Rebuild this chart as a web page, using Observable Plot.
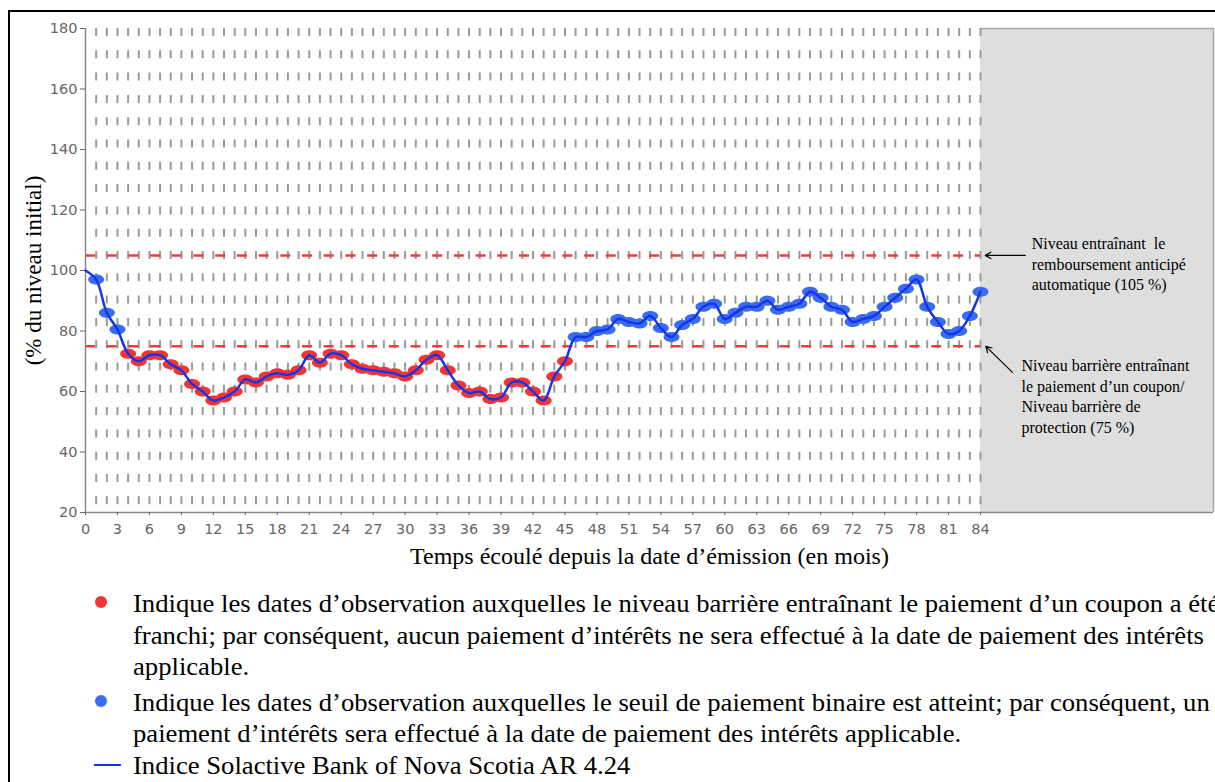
<!DOCTYPE html>
<html><head><meta charset="utf-8">
<script src="https://cdn.jsdelivr.net/npm/d3@7"></script>
<script src="https://cdn.jsdelivr.net/npm/@observablehq/plot@0.6"></script>
<style>
body{margin:0;background:#fff;}
#page{position:relative;width:1215px;height:782px;overflow:hidden;background:#fff;}
#chart{position:absolute;left:0;top:0;}
#frame{position:absolute;left:8px;top:10px;width:1207px;height:772px;border-top:2.5px solid #000;border-left:2.5px solid #000;box-sizing:border-box;pointer-events:none;}
.leg{position:absolute;font-family:"Liberation Serif","Times New Roman",serif;font-size:25px;white-space:nowrap;color:#000;line-height:1;transform:scaleX(1.066);transform-origin:0 0;}
.ldot{position:absolute;width:12px;height:12px;border-radius:50%;}
.lline{position:absolute;height:2px;}
</style></head><body>
<div id="page"><div id="chart"></div><div id="legend"></div><div id="frame"></div></div>
<script>
// ---- data ----
const values = [100, 97, 86, 80.5, 72.5, 70, 72, 72, 69, 67, 62.5, 60, 57, 58, 60, 64, 63, 65, 66, 65.5,
  67, 72, 69.5, 72.5, 72, 69, 67.5, 67, 66.5, 66, 65, 67, 70.5, 72, 67, 62, 59.5, 60, 57.5, 58,
  63, 63, 60, 57, 65, 70, 78, 78, 80, 80.5, 84, 83, 82.5, 85, 81, 78, 82, 84, 88, 89,
  84, 86, 88, 88, 90, 87, 88, 89, 93, 91, 88, 87, 83, 84, 85, 88, 91, 94, 97, 88,
  83, 79, 80, 85, 93];
const months = values.map((_, i) => i);
const couponBarrier = 75;
const autocallLevel = 105;
const thresholds = [autocallLevel, couponBarrier];
const lastMonth = 84;
const xMax = 105.87;
const xTicks = [0,3,6,9,12,15,18,21,24,27,30,33,36,39,42,45,48,51,54,57,60,63,66,69,72,75,78,81,84];
const yTicks = [20,40,60,80,100,120,140,160,180];
const gridMonths = months.slice(1);
const xLabel = "Temps écoulé depuis la date d’émission (en mois)";
const yLabel = "(% du niveau initial)";
const notes = [
  {x: 88.8, y: 102.5, text: "Niveau entraînant  le\nremboursement anticipé\nautomatique (105 %)"},
  {x: 87.85, y: 58.7, text: "Niveau barrière entraînant\nle paiement d’un coupon/\nNiveau barrière de\nprotection (75 %)"}
];
const arrows = [
  {x1: 88.2, y1: 105, x2: 84.45, y2: 105},
  {x1: 87.0, y1: 66.3, x2: 84.5, y2: 74.9}
];
const legendItems = [
  {kind: "dot", color: "#f23434", lines: [
    "Indique les dates d’observation auxquelles le niveau barrière entraînant le paiement d’un coupon a été",
    "franchi; par conséquent, aucun paiement d’intérêts ne sera effectué à la date de paiement des intérêts",
    "applicable."]},
  {kind: "dot", color: "#3a6cf2", lines: [
    "Indique les dates d’observation auxquelles le seuil de paiement binaire est atteint; par conséquent, un",
    "paiement d’intérêts sera effectué à la date de paiement des intérêts applicable."]},
  {kind: "line", color: "#1535e8", lines: ["Indice Solactive Bank of Nova Scotia AR 4.24"]}
];

const RED = "#f23434", BLUE = "#3a6cf2", LINE = "#1535e8";
const data = months.map((m, i) => ({month: m, value: values[i]}));
const obs = data.slice(1);

const ellipse = {
  draw(ctx, size) {
    const r = Math.sqrt(size / Math.PI), rx = r * 1.6, ry = r, k = 0.5523;
    ctx.moveTo(rx, 0);
    ctx.bezierCurveTo(rx, k*ry, k*rx, ry, 0, ry);
    ctx.bezierCurveTo(-k*rx, ry, -rx, k*ry, -rx, 0);
    ctx.bezierCurveTo(-rx, -k*ry, -k*rx, -ry, 0, -ry);
    ctx.bezierCurveTo(k*rx, -ry, rx, -k*ry, rx, 0);
    ctx.closePath();
  }
};

const serif = '"Liberation Serif", "Times New Roman", serif';
const chart = Plot.plot({
  width: 1215, height: 575,
  marginLeft: 85, marginRight: 2, marginTop: 28, marginBottom: 63,
  x: {domain: [0, xMax]},
  y: {domain: [20, 180]},
  color: {type: "identity"},
  style: {fontFamily: "DejaVu Sans, sans-serif", background: "transparent"},
  marks: [
    Plot.rect([{}], {x1: lastMonth, x2: xMax, y1: 20, y2: 180, fill: "#dedede"}),
    Plot.ruleY([180], {x1: lastMonth, x2: xMax, stroke: "#a6a6a6", strokeWidth: 1.5}),
    Plot.ruleX([xMax], {y1: 20, y2: 180, stroke: "#a6a6a6", strokeWidth: 1.5}),
    Plot.ruleX(gridMonths, {x: d => d, y1: 180, y2: 20, stroke: "#9a9a9a", strokeWidth: 2, strokeDasharray: "8,14.3"}),
    Plot.ruleY(thresholds, {y: d => d, x1: 0, x2: lastMonth, stroke: "#f23b3b", strokeWidth: 2.5, strokeDasharray: "10,11.7"}),
    Plot.ruleX([0], {stroke: "#8a8a8a", strokeWidth: 1.5}),
    Plot.ruleY([20], {stroke: "#8a8a8a", strokeWidth: 1.5}),
    Plot.axisY({ticks: yTicks, tickSize: 5, tickPadding: 3, label: null, fontSize: 14.5, color: "#666"}),
    Plot.axisX({ticks: xTicks, tickSize: 3, tickPadding: 8, label: null, fontSize: 14.5, color: "#666"}),
    Plot.dot(obs, {x: "month", y: "value", r: 5, symbol: ellipse, fill: d => d.value < couponBarrier ? RED : BLUE, stroke: null}),
    Plot.line(data, {x: "month", y: "value", curve: "catmull-rom", stroke: LINE, strokeWidth: 2.5}),
    Plot.arrow(arrows, {x1: "x1", y1: "y1", x2: "x2", y2: "y2", stroke: "#000", strokeWidth: 1.2, headLength: 8, bend: 0}),
    Plot.text(notes, {x: "x", y: "y", text: "text", textAnchor: "start", lineAnchor: "middle", fontSize: 16, fontFamily: serif, lineHeight: 1.3, fill: "#000"}),
    Plot.text([xLabel], {text: d => d, frameAnchor: "bottom", textAnchor: "middle", lineAnchor: "middle", dy: 44, fontSize: 24, fontFamily: serif, fill: "#000"}),
    Plot.text([yLabel], {text: d => d, frameAnchor: "left", textAnchor: "middle", lineAnchor: "middle", dx: -52, rotate: -90, fontSize: 23, fontFamily: serif, fill: "#000"})
  ]
});
document.getElementById("chart").appendChild(chart);

// ---- legend ----
const leg = document.getElementById("legend");
let yPos = 591; const lh = 31.5;
legendItems.forEach((item, i) => {
  if (item.kind === "dot") {
    const d = document.createElement("div");
    d.className = "ldot"; d.style.background = item.color;
    d.style.left = "95px"; d.style.top = (yPos + 5) + "px";
    leg.appendChild(d);
  } else {
    const l = document.createElement("div");
    l.className = "lline"; l.style.background = item.color;
    l.style.left = "94px"; l.style.width = "27px"; l.style.top = (yPos + 11) + "px";
    leg.appendChild(l);
  }
  item.lines.forEach((t, j) => {
    const s = document.createElement("div");
    s.className = "leg"; s.textContent = t;
    s.style.left = "133px"; s.style.top = (yPos + j * lh) + "px";
    leg.appendChild(s);
  });
  yPos += item.lines.length * lh + (i === 0 ? 4 : 0);
});
</script>
</body></html>
